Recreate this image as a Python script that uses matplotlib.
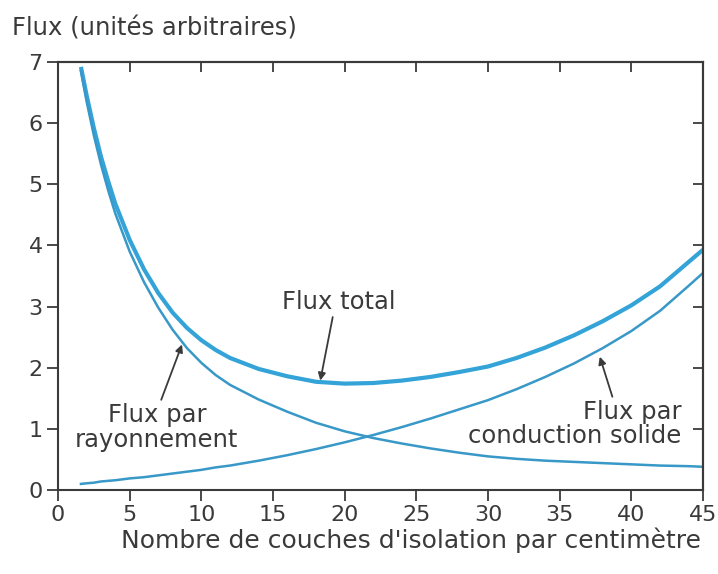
import matplotlib.pyplot as plt

plt.rcParams['font.family'] = ['DejaVu Sans']

# couches par centimetre
couches = [1.6, 2, 2.5, 3, 3.5, 4, 5, 6, 7, 8, 9, 10, 11, 12, 14, 16, 18, 20,
           22, 24, 26, 28, 30, 32, 34, 36, 38, 40, 42, 44, 45]

flux_rayonnement = [6.85, 6.35, 5.80, 5.32, 4.90, 4.52, 3.90, 3.40, 2.98, 2.62,
                    2.32, 2.08, 1.88, 1.72, 1.48, 1.28, 1.10, 0.96, 0.85, 0.76,
                    0.68, 0.61, 0.55, 0.51, 0.48, 0.46, 0.44, 0.42, 0.40, 0.39,
                    0.38]

flux_conduction = [0.10, 0.11, 0.12, 0.14, 0.15, 0.16, 0.19, 0.21, 0.24, 0.27,
                   0.30, 0.33, 0.37, 0.40, 0.48, 0.57, 0.67, 0.78, 0.90, 1.03,
                   1.17, 1.32, 1.47, 1.65, 1.85, 2.07, 2.32, 2.60, 2.93, 3.34,
                   3.55]

flux_total = [6.92, 6.45, 5.92, 5.45, 5.05, 4.68, 4.09, 3.61, 3.22, 2.90,
              2.65, 2.45, 2.29, 2.16, 1.98, 1.86, 1.77, 1.74, 1.75, 1.79,
              1.85, 1.93, 2.02, 2.16, 2.33, 2.53, 2.76, 3.02, 3.33, 3.73,
              3.93]

xticks = [0, 5, 10, 15, 20, 25, 30, 35, 40, 45]
yticks = [0, 1, 2, 3, 4, 5, 6, 7]

texte = '#3a3a3a'
bleu = '#33a3d8'
bleu_fin = '#3898c8'

fig = plt.figure(figsize=(7.18, 5.74), dpi=100)
ax = fig.add_axes([0.0808, 0.1463, 0.8983, 0.7457])

ax.plot(couches, flux_total, color=bleu, lw=3.0, solid_capstyle='butt')
ax.plot(couches, flux_rayonnement, color=bleu_fin, lw=1.8)
ax.plot(couches, flux_conduction, color=bleu_fin, lw=1.8)

ax.set_xlim(0, 45)
ax.set_ylim(0, 7)
ax.set_xticks(xticks)
ax.set_yticks(yticks)
ax.tick_params(direction='out', length=8, width=1.3, colors=texte,
               labelsize=16, pad=3)

# graduations interieures en haut et a droite
top = ax.secondary_xaxis('top')
top.set_xticks(xticks)
top.tick_params(direction='in', length=7, width=1.3, colors=texte,
                labeltop=False)
right = ax.secondary_yaxis('right')
right.set_yticks(yticks)
right.tick_params(direction='in', length=7, width=1.3, colors=texte,
                  labelright=False)
for sp in list(ax.spines.values()) + [top.spines['top'], right.spines['right']]:
    sp.set_color(texte)
    sp.set_linewidth(1.5)

fleche = dict(arrowstyle='-|>', color=texte, lw=1.3, mutation_scale=11,
              shrinkA=0, shrinkB=0)

ax.annotate('Flux total', xy=(18.3, 1.79), xytext=(19.6, 3.07),
            ha='center', va='center', fontsize=17.5, color=texte,
            arrowprops=dict(fleche, relpos=(0.45, 0.0)))
ax.annotate('Flux par\nrayonnement', xy=(8.65, 2.38), xytext=(6.9, 1.03),
            ha='center', va='center', fontsize=17.5, color=texte,
            multialignment='center', linespacing=1.05,
            arrowprops=dict(fleche, relpos=(0.52, 1.0)))
ax.annotate('Flux par\nconduction solide', xy=(37.8, 2.18), xytext=(43.5, 1.08),
            ha='right', va='center', fontsize=17.5, color=texte,
            multialignment='right', linespacing=1.05,
            arrowprops=dict(fleche, relpos=(0.68, 1.0)))

fig.text(0.017, 0.951, 'Flux (unités arbitraires)', fontsize=17.5,
         color=texte, ha='left', va='center')
fig.text(0.572, 0.059, "Nombre de couches d'isolation par centimètre",
         fontsize=18, color=texte, ha='center', va='center')

fig.savefig('out.png', dpi=100)
